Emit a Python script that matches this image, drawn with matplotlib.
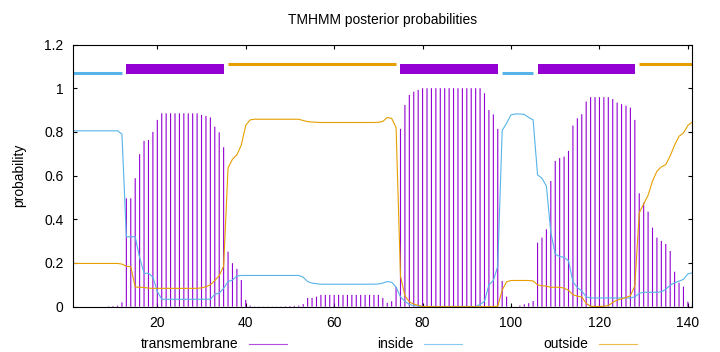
import matplotlib
matplotlib.use('Agg')
import matplotlib.pyplot as plt
from matplotlib.lines import Line2D
import numpy as np

# posterior probabilities per residue (1..141)
pos = np.arange(1, 142)

tm = [
    0, 0, 0, 0, 0, 0, 0, 0, 0.002, 0.003,
    0.005, 0.02, 0.496, 0.496, 0.588, 0.698, 0.759, 0.763, 0.800, 0.855,
    0.885, 0.885, 0.885, 0.885, 0.885, 0.885, 0.885, 0.885, 0.885, 0.878,
    0.873, 0.866, 0.824, 0.798, 0.730, 0.252, 0.199, 0.173, 0.122, 0.031,
    0.005, 0.001, 0.001, 0.001, 0.001, 0.001, 0.001, 0.001, 0.002, 0.003,
    0.004, 0.005, 0.012, 0.040, 0.040, 0.046, 0.054, 0.054, 0.054, 0.054,
    0.054, 0.054, 0.054, 0.054, 0.054, 0.054, 0.054, 0.054, 0.054, 0.054,
    0.040, 0.018, 0.025, 0.090, 0.814, 0.923, 0.969, 0.984, 0.992, 1.0,
    1.0, 1.0, 1.0, 1.0, 1.0, 1.0, 1.0, 1.0, 1.0, 1.0,
    1.0, 1.0, 1.0, 0.977, 0.900, 0.880, 0.814, 0.118, 0.046, 0.0,
    0.0, 0.005, 0.011, 0.016, 0.026, 0.293, 0.316, 0.354, 0.575, 0.667,
    0.680, 0.687, 0.713, 0.829, 0.862, 0.881, 0.939, 0.959, 0.959, 0.959,
    0.959, 0.959, 0.950, 0.934, 0.927, 0.920, 0.911, 0.855, 0.519, 0.476,
    0.435, 0.362, 0.316, 0.301, 0.287, 0.255, 0.160, 0.110, 0.092, 0.023, 0.005,
]

inside = [
    0.805, 0.805, 0.805, 0.805, 0.805, 0.805, 0.805, 0.805, 0.805, 0.805,
    0.805, 0.790, 0.320, 0.320, 0.320, 0.225, 0.153, 0.153, 0.135, 0.070,
    0.034, 0.034, 0.034, 0.034, 0.034, 0.034, 0.034, 0.034, 0.034, 0.034,
    0.034, 0.034, 0.057, 0.062, 0.084, 0.115, 0.122, 0.140, 0.143, 0.143,
    0.143, 0.143, 0.143, 0.143, 0.143, 0.143, 0.143, 0.143, 0.143, 0.143,
    0.143, 0.143, 0.135, 0.115, 0.108, 0.105, 0.103, 0.103, 0.103, 0.103,
    0.103, 0.103, 0.103, 0.103, 0.103, 0.103, 0.103, 0.103, 0.103, 0.104,
    0.108, 0.115, 0.112, 0.090, 0.045, 0.025, 0.010, 0.005, 0.003, 0.001,
    0.001, 0.001, 0.001, 0.001, 0.001, 0.001, 0.001, 0.001, 0.001, 0.001,
    0.001, 0.001, 0.010, 0.025, 0.100, 0.120, 0.185, 0.806, 0.840, 0.878,
    0.882, 0.882, 0.880, 0.866, 0.855, 0.603, 0.588, 0.552, 0.340, 0.240,
    0.230, 0.226, 0.210, 0.114, 0.088, 0.072, 0.045, 0.040, 0.040, 0.040,
    0.040, 0.040, 0.040, 0.040, 0.040, 0.040, 0.040, 0.045, 0.061, 0.066,
    0.066, 0.066, 0.066, 0.068, 0.080, 0.098, 0.110, 0.117, 0.125, 0.150, 0.155,
]

outside = [
    0.198, 0.198, 0.198, 0.198, 0.198, 0.198, 0.198, 0.198, 0.198, 0.198,
    0.198, 0.195, 0.185, 0.183, 0.090, 0.089, 0.088, 0.085, 0.084, 0.084,
    0.084, 0.084, 0.084, 0.084, 0.084, 0.084, 0.084, 0.084, 0.084, 0.086,
    0.091, 0.100, 0.120, 0.142, 0.186, 0.635, 0.675, 0.695, 0.740, 0.830,
    0.855, 0.858, 0.858, 0.858, 0.858, 0.858, 0.858, 0.858, 0.858, 0.858,
    0.858, 0.858, 0.852, 0.847, 0.845, 0.844, 0.843, 0.843, 0.843, 0.843,
    0.843, 0.843, 0.843, 0.843, 0.843, 0.843, 0.843, 0.843, 0.843, 0.844,
    0.848, 0.866, 0.862, 0.820, 0.140, 0.050, 0.022, 0.012, 0.006, 0.001,
    0.001, 0.0, 0.0, 0.0, 0.0, 0.0, 0.0, 0.0, 0.0, 0.0,
    0.0, 0.0, 0.0, 0.0, 0.0, 0.0, 0.002, 0.076, 0.114, 0.120,
    0.120, 0.120, 0.120, 0.120, 0.118, 0.100, 0.096, 0.094, 0.089, 0.089,
    0.089, 0.085, 0.075, 0.055, 0.048, 0.045, 0.015, 0.002, 0.001, 0.001,
    0.002, 0.005, 0.020, 0.030, 0.036, 0.042, 0.050, 0.095, 0.430, 0.470,
    0.510, 0.575, 0.620, 0.640, 0.650, 0.690, 0.740, 0.780, 0.795, 0.830, 0.845,
]

# predicted topology segments (bars along the top)
seg_kind = ['inside', 'TMhelix', 'outside', 'TMhelix', 'inside', 'TMhelix', 'outside']
seg_start = [1, 13, 36, 75, 98, 106, 129]
seg_end = [12, 35, 74, 97, 105, 128, 141]

colors = {'TMhelix': '#9400d3', 'inside': '#56b4e9', 'outside': '#e69f00'}
bar_y = {'inside': 1.07, 'TMhelix': 1.09, 'outside': 1.11}
bar_lw = {'inside': 2.2, 'TMhelix': 7.2, 'outside': 2.2}

plt.rcParams['font.family'] = ['Liberation Sans', 'DejaVu Sans']
fs = 10

W, H = 720, 352
fig = plt.figure(figsize=(W / 100, H / 100), dpi=100)
left, right, top, bottom = 73.3, 692.3, 44.5, 306.7
ax = fig.add_axes([left / W, 1 - bottom / H, (right - left) / W, (bottom - top) / H])

# impulses, unsnapped so they antialias like the gnuplot output
ax.vlines(pos, 0, tm, color=colors['TMhelix'], lw=0.8, snap=False)
ax.plot(pos, inside, color=colors['inside'], lw=0.8)
ax.plot(pos, outside, color=colors['outside'], lw=0.8)

for k, s, e in zip(seg_kind, seg_start, seg_end):
    ax.hlines(bar_y[k], s, e, color=colors[k], lw=bar_lw[k], capstyle='butt')

ax.set_xlim(1, 141)
ax.set_ylim(0, 1.2)
ax.set_xticks([20, 40, 60, 80, 100, 120, 140])
ax.set_yticks([0, 0.2, 0.4, 0.6, 0.8, 1.0, 1.2])
ax.set_yticklabels(['0', '0.2', '0.4', '0.6', '0.8', '1', '1.2'])
ax.tick_params(direction='in', length=3, width=0.8, top=True, right=True, labelsize=fs)
ax.tick_params(axis='y', pad=7)
ax.tick_params(axis='x', pad=7)
for sp in ax.spines.values():
    sp.set_linewidth(0.8)

fig.text((left + right) / 2 / W, 1 - 20 / H, 'TMHMM posterior probabilities',
         ha='center', va='center', fontsize=fs)
fig.text(19 / W, 1 - 175 / H, 'probability', rotation=90, ha='center', va='center', fontsize=fs)

# key row under the x axis, gnuplot style: label then sample line
key_y = 1 - 344 / H
for i, (lab, k) in enumerate([('transmembrane', 'TMhelix'), ('inside', 'inside'), ('outside', 'outside')]):
    xr = 238 + 175 * i
    fig.text(xr / W, key_y, lab, ha='right', va='center', fontsize=fs)
    fig.add_artist(Line2D([(xr + 11) / W, (xr + 49) / W], [key_y, key_y],
                          color=colors[k], lw=0.8, alpha=0.7))

fig.savefig('out.png', dpi=100)
